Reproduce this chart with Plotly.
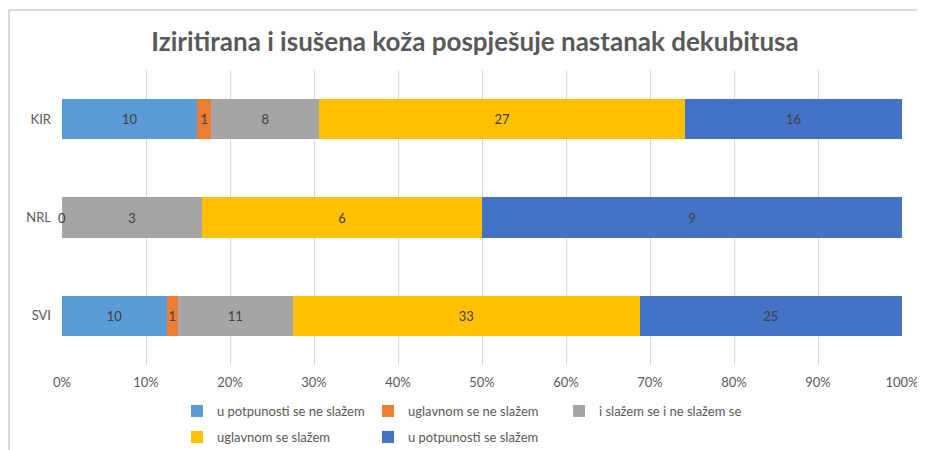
import plotly.graph_objects as go

categories = ["SVI", "NRL", "KIR"]
series_names = [
    "u potpunosti se ne slažem",
    "uglavnom se ne slažem",
    "i slažem se i ne slažem se",
    "uglavnom se slažem",
    "u potpunosti se slažem",
]
s1 = [10, 0, 10]
s2 = [1, None, 1]
s3 = [11, 3, 8]
s4 = [33, 6, 27]
s5 = [25, 9, 16]
x_tick_vals = [0, 10, 20, 30, 40, 50, 60, 70, 80, 90, 100]
x_tick_labels = ["0%", "10%", "20%", "30%", "40%", "50%", "60%", "70%", "80%", "90%", "100%"]
title_text = "Iziritirana i isušena koža pospješuje nastanak dekubitusa"

colors = ["#5B9BD5", "#ED7D31", "#A5A5A5", "#FFC000", "#4472C4"]
series = [s1, s2, s3, s4, s5]

totals = [sum(v[i] or 0 for v in series) for i in range(len(categories))]

# page offset (browser body margin) compensation
W, H = 917, 442
ML, MR, MT, MB = 54, 23, 62, 85
PW, PH = W - ML - MR, H - MT - MB

fig = go.Figure()
annotations = []
cum = [0.0] * len(categories)
for k, (name, vals, col) in enumerate(zip(series_names, series, colors)):
    pct = [None if v is None else v / t * 100 for v, t in zip(vals, totals)]
    texts = ["" if (v is None or v == 0) else str(v) for v in vals]
    fig.add_trace(go.Bar(
        y=categories, x=pct, name=name, orientation="h",
        marker=dict(color=col, line=dict(width=0)),
        text=texts, textposition="inside", insidetextanchor="middle",
        constraintext="none",
        textfont=dict(color="#404040", size=13, family="Lato"),
        legend="legend" if k < 3 else "legend2",
        hoverinfo="skip",
    ))
    for i, v in enumerate(vals):
        if v == 0:
            annotations.append(dict(x=cum[i], y=categories[i], text=str(v),
                                    showarrow=False, xref="x", yref="y",
                                    font=dict(color="#404040", size=13, family="Lato")))
        if v:
            cum[i] += pct[i]

legend_common = dict(orientation="h", xref="container", yref="container",
                     xanchor="left", yanchor="middle", entrywidth=146,
                     font=dict(size=13, color="#595959", family="Lato"),
                     traceorder="normal", itemwidth=30, bgcolor="rgba(0,0,0,0)")

fig.update_layout(
    width=W, height=H,
    barmode="stack", bargap=0.59,
    plot_bgcolor="white", paper_bgcolor="white",
    margin=dict(l=ML, r=MR, t=MT, b=MB, autoexpand=False),
    font=dict(family="Lato", color="#595959", size=13),
    title=dict(text=title_text, x=467 / W, xanchor="center", xref="container",
               y=1 - 34 / H, yanchor="middle", yref="container",
               font=dict(size=26, color="#595959", family="Lato", weight="bold")),
    xaxis=dict(range=[0, 100], tickvals=x_tick_vals, ticktext=x_tick_labels,
               showgrid=True, gridcolor="#D9D9D9", gridwidth=1, zeroline=False,
               showline=False, ticks="", ticklabelstandoff=8,
               tickfont=dict(size=13, color="#595959")),
    yaxis=dict(categoryorder="array", categoryarray=categories, showgrid=False,
               showline=False, ticks="", ticklabelstandoff=10,
               tickfont=dict(size=13, color="#595959")),
    legend=dict(x=169 / W, y=1 - 403 / H, **legend_common),
    legend2=dict(x=169 / W, y=1 - 429 / H, **legend_common),
    annotations=annotations,
    showlegend=True,
    shapes=[
        dict(type="line", xref="paper", yref="paper",
             x0=(1 - ML) / PW, x1=(W - ML) / PW,
             y0=1 + (MT - 2) / PH, y1=1 + (MT - 2) / PH,
             line=dict(color="#D9D9D9", width=2)),
        dict(type="line", xref="paper", yref="paper",
             x0=(1 - ML) / PW, x1=(1 - ML) / PW,
             y0=1 + (MT - 2) / PH, y1=-MB / PH,
             line=dict(color="#D9D9D9", width=2)),
    ],
)

fig.write_html("out.html")
